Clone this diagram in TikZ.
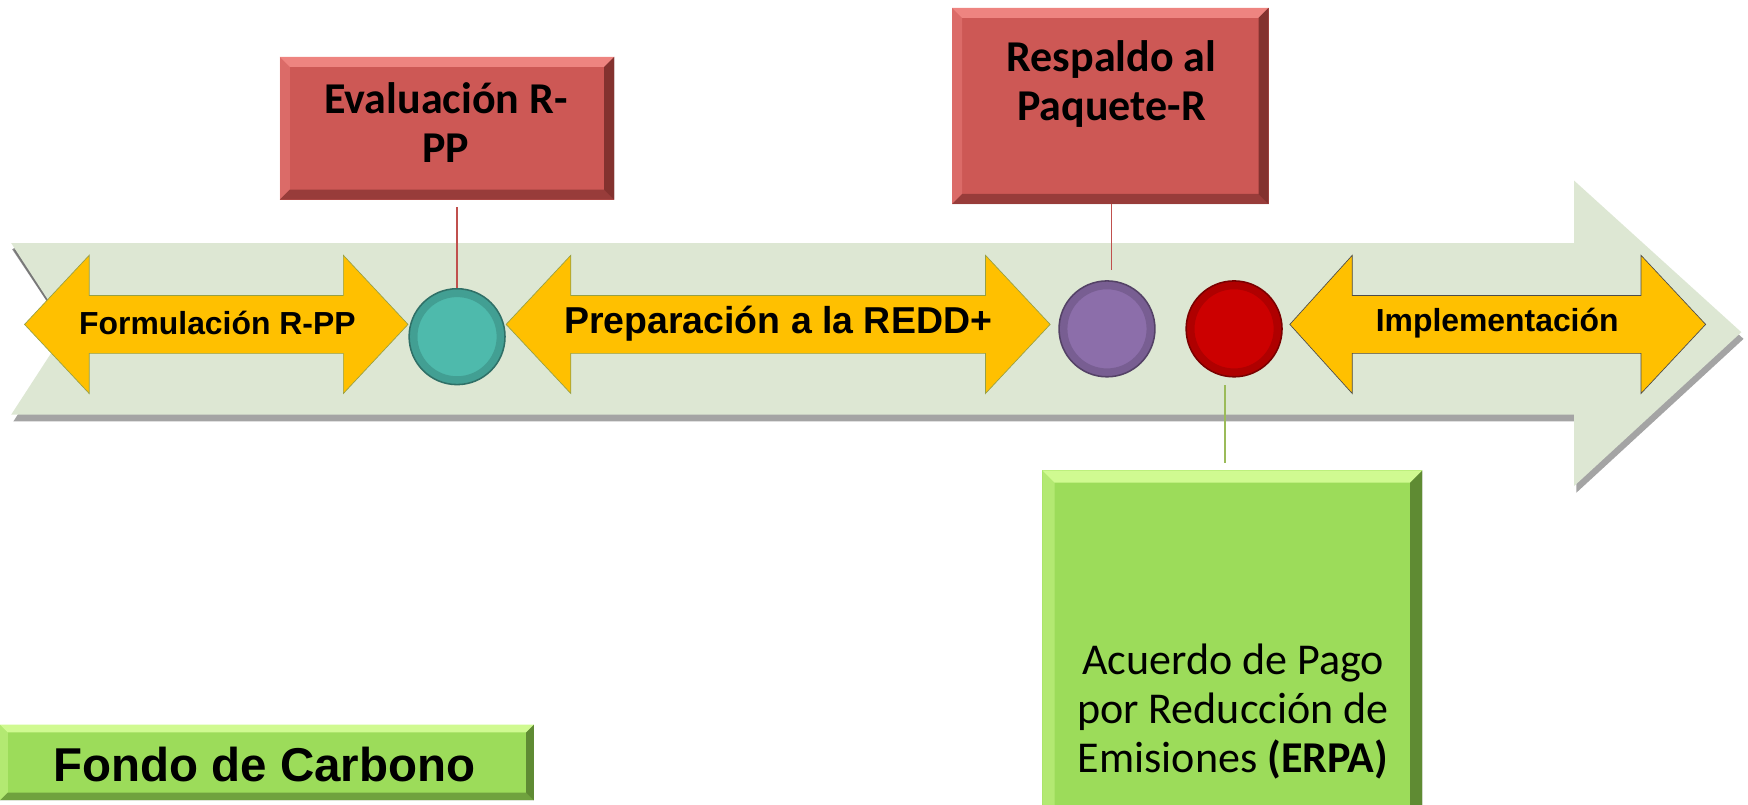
\documentclass[tikz,border=0pt]{standalone}
\usepackage{fontspec}
\setmainfont{Liberation Sans}
\newfontfamily\carlito{Carlito}
\usetikzlibrary{calc}
\definecolor{bandgreen}{RGB}{221,231,211}
\definecolor{yarrow}{RGB}{255,192,0}
\definecolor{yedge}{RGB}{150,160,70}
\definecolor{boxred}{RGB}{205,88,85}
\definecolor{redlight}{RGB}{238,132,128}
\definecolor{reddark}{RGB}{100,34,32}
\definecolor{boxgreen}{RGB}{156,220,90}
\definecolor{greenlight}{RGB}{208,250,145}
\definecolor{greendark}{RGB}{70,105,35}
\definecolor{dotteal}{RGB}{78,186,172}
\definecolor{dotlilac}{RGB}{140,110,170}
\definecolor{dotred}{RGB}{204,0,0}
\definecolor{redline}{RGB}{192,80,77}
\definecolor{greenline}{RGB}{155,187,89}
\newcommand\bevelbox[4]{%
 \fill[#3] (#1.north west) -- (#1.north east) -- ([xshift=-#2,yshift=-#2]#1.north east) -- ([xshift=#2,yshift=-#2]#1.north west) -- cycle;
 \fill[#3, opacity=.45] (#1.north west) -- ([xshift=#2,yshift=-#2]#1.north west) -- ([xshift=#2,yshift=#2]#1.south west) -- (#1.south west) -- cycle;
 \fill[#4, opacity=.7] (#1.north east) -- (#1.south east) -- ([xshift=-#2,yshift=#2]#1.south east) -- ([xshift=-#2,yshift=-#2]#1.north east) -- cycle;
 \fill[#4, opacity=.5] (#1.south west) -- (#1.south east) -- ([xshift=-#2,yshift=#2]#1.south east) -- ([xshift=#2,yshift=#2]#1.south west) -- cycle;
}
\begin{document}
\begin{tikzpicture}[x=1pt,y=-1pt,
 box/.style={draw=none, inner sep=0pt, outer sep=0pt, anchor=north west},
 redbox/.style={box, fill=boxred},
 greenbox/.style={box, fill=boxgreen},
 dot/.style={circle, minimum size=86pt, inner sep=0pt, line width=1.4pt,
   path picture={\draw[black, opacity=.14, line width=7pt] (path picture bounding box.center) circle (39pt);}},
 ylw/.style={fill=yarrow, draw=yedge, line width=0.6pt},
 arrowtext/.style={font=\bfseries\fontsize{28.6}{34}\selectfont, inner sep=0pt},
 boxtext/.style={font=\carlito\bfseries\fontsize{39.5}{44}\selectfont, align=center, inner sep=0pt},
 erpatext/.style={font=\carlito\fontsize{39.5}{44}\selectfont, align=center, inner sep=0pt},
 rline/.style={draw=redline, line width=1.3pt},
 gline/.style={draw=greenline, line width=1.3pt}
]
\useasboundingbox (0,0) rectangle (1568,722);
\clip (0,0) rectangle (1568,722);
% big timeline arrow with shadow
\begin{scope}[shift={(2,6)}]
\fill[black!65, opacity=.55] (10,218) -- (1412,218) -- (1412,162) -- (1562,298) -- (1412,436) -- (1412,372) -- (10,372) -- (60,295) -- cycle;
\end{scope}
\draw[black!60, line width=2.5pt, opacity=.7] (12,223) -- (52,283);
\fill[bandgreen] (10,218) -- (1412,218) -- (1412,162) -- (1562,298) -- (1412,436) -- (1412,372) -- (10,372) -- (60,295) -- cycle;
% yellow double arrows
\draw[ylw] (22,291) -- (80,229) -- (80,265) -- (308,265) -- (308,229) -- (366,291) -- (308,353) -- (308,317) -- (80,317) -- (80,353) -- cycle;
\draw[ylw] (454,291) -- (512,229) -- (512,265) -- (884,265) -- (884,229) -- (942,291) -- (884,353) -- (884,317) -- (512,317) -- (512,353) -- cycle;
\draw[ylw, draw=black!70] (1157,291) -- (1213,229) -- (1213,265) -- (1472,265) -- (1472,229) -- (1530,291) -- (1472,353) -- (1472,317) -- (1213,317) -- (1213,353) -- cycle;
\node[arrowtext] (t1) at (195,290) {Formulación R-PP};
\node[arrowtext, font=\bfseries\fontsize{33.6}{40}\selectfont] (t2) at (698,290) {Preparación a la REDD+};
\node[arrowtext] (t3) at (1343,290) {Implementación};
% milestone dots
\node[dot, fill=dotteal, draw=dotteal!60!black] (c1) at (410,302) {};
\node[dot, fill=dotlilac, draw=dotlilac!60!black] (c2) at (993,295) {};
\node[dot, fill=dotred, draw=dotred!60!black] (c3) at (1107,295) {};
% boxes
\node[redbox, minimum width=300pt, minimum height=128pt] (ev) at (251,51) {};
\bevelbox{ev}{9pt}{redlight}{reddark}
\node[boxtext] (evt) at (400,110) {Evaluación R-\\PP};
\node[redbox, minimum width=284pt, minimum height=176pt] (rs) at (854,7) {};
\bevelbox{rs}{9pt}{redlight}{reddark}
\node[boxtext] (rst) at (997,75) {Respaldo al\\Paquete-R};
\node[greenbox, minimum width=341pt, minimum height=330pt] (er) at (935,422) {};
\bevelbox{er}{11pt}{greenlight}{greendark}
\node[erpatext] (ert) at (1106,638) {Acuerdo de Pago\\por Reducción de\\Emisiones \textbf{(ERPA)}};
\node[greenbox, minimum width=479pt, minimum height=68pt] (fc) at (0,650) {};
\bevelbox{fc}{7pt}{greenlight}{greendark}
\node[font=\bfseries\fontsize{42.6}{48}\selectfont, inner sep=0pt] (fct) at (237,686) {Fondo de Carbono};
% connectors
\draw[rline, shorten <=7pt] (c1.north |- ev.south) -- (c1.north);
\draw[rline, shorten >=9pt] ([xshift=4pt]c2.north |- rs.south) -- ([xshift=4pt]c2.north);
\draw[gline, shorten <=7pt, shorten >=7pt] ([xshift=-8pt]c3.south) -- ([xshift=-8pt]c3.south |- er.north);
\end{tikzpicture}
\end{document}
